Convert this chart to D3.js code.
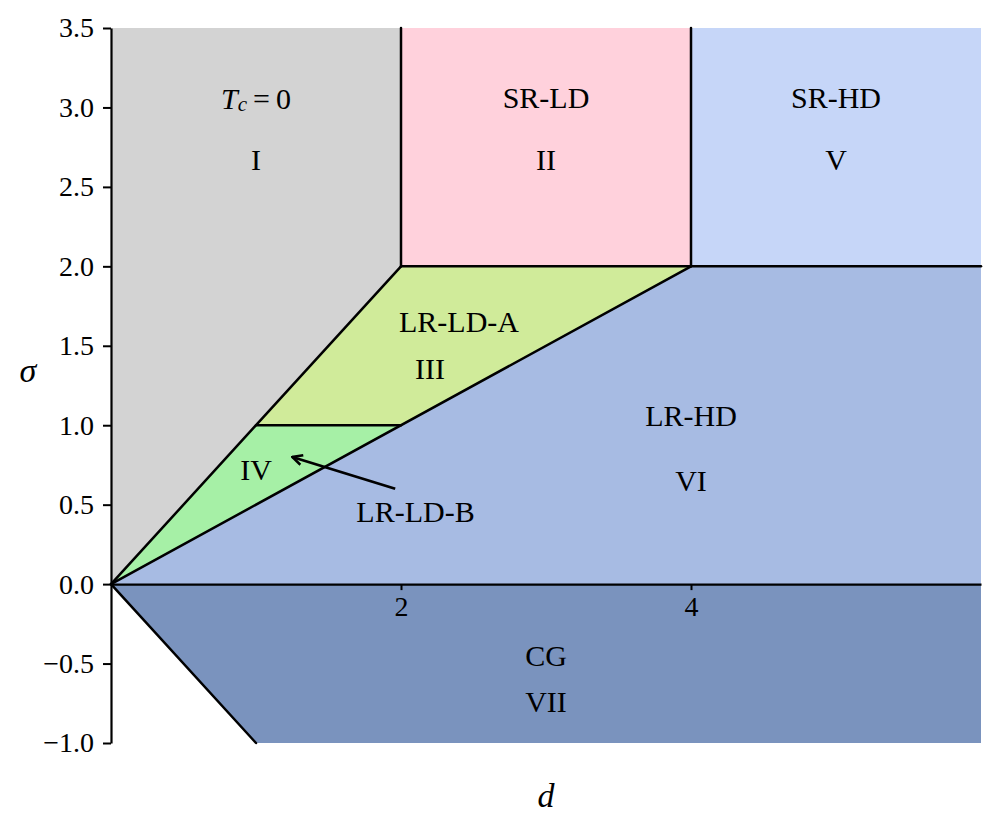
<!DOCTYPE html>
<html><head><meta charset="utf-8">
<script src="https://cdn.jsdelivr.net/npm/d3@7/dist/d3.min.js"></script>
<style>body{margin:0;background:#fff}svg{display:block}text{font-family:"Liberation Serif","DejaVu Serif",serif}</style>
</head><body>
<script>
// Region polygons (d, sigma)
const regionNames = ["I","II","V","III","IV","VI","VII"];
const regionColors = ["#d3d3d3","#ffd1dc","#c6d6f8","#d0eb9a","#a6f0a6","#a7bbe3","#7a93be"];
const regionPolys = [
  [[0,0],[0,3.5],[2,3.5],[2,2],[1,1]],
  [[2,2],[2,3.5],[4,3.5],[4,2]],
  [[4,2],[4,3.5],[6,3.5],[6,2]],
  [[1,1],[2,2],[4,2],[2,1]],
  [[0,0],[1,1],[2,1]],
  [[0,0],[2,1],[4,2],[6,2],[6,0]],
  [[0,0],[6,0],[6,-1],[1,-1]]
];
// Boundary line segments
const boundaries = [
  [[0,0],[2,2]],[[2,2],[2,3.5]],[[4,2],[4,3.5]],[[2,2],[6,2]],
  [[1,1],[2,1]],[[0,0],[4,2]],[[0,0],[1,-1]]
];
// Labels: text, d, sigma
const labelTexts = ["SR-LD","II","SR-HD","V","I","LR-LD-A","III","IV","LR-LD-B","LR-HD","VI","CG","VII"];
const labelD =     [3, 3, 5, 5, 1, 2.4, 2.2, 1.0, 2.1, 4.0, 4.0, 3.0, 3.0];
const labelS =     [3.06, 2.67, 3.06, 2.67, 2.67, 1.65, 1.36, 0.72, 0.46, 1.06, 0.65, -0.45, -0.74];
const tcLabel = {d:1.0, s:3.06};
const arrowFrom = [1.96, 0.6];
const arrowTo = [1.25, 0.8];
const yTicks = [-1.0,-0.5,0.0,0.5,1.0,1.5,2.0,2.5,3.0,3.5];
const xTicks = [2,4];

const W=998,H=830;
const svg=d3.select("body").append("svg").attr("width",W).attr("height",H);
const x=d3.scaleLinear().domain([0,6]).range([111,981]);
const y=d3.scaleLinear().domain([-1,3.5]).range([743,28]);
const font='"Liberation Serif","DejaVu Serif",serif';

const line=d3.line().x(p=>x(p[0])).y(p=>y(p[1]));
svg.append("g").selectAll("path").data(regionPolys).join("path")
  .attr("d",p=>line(p)+"Z").attr("fill",(p,i)=>regionColors[i]).attr("stroke","none");
svg.append("g").selectAll("path").data(boundaries).join("path")
  .attr("d",line).attr("stroke","#000").attr("stroke-width",2.5).attr("fill","none").attr("stroke-linecap","round");

// x axis at zero
const xa=svg.append("g").attr("transform",`translate(0,${y(0)})`)
  .call(d3.axisBottom(x).tickValues(xTicks).tickFormat(d3.format("d")).tickSize(6).tickPadding(6).tickSizeOuter(0));
xa.attr("font-family",null).attr("font-size",null);
xa.select(".domain").attr("stroke-width",2.2);
xa.selectAll("line").attr("stroke-width",2);
xa.selectAll("text").style("font-family",font).style("font-size","28px").attr("fill","#000");

const ya=svg.append("g").attr("transform",`translate(${x(0)},0)`)
  .call(d3.axisLeft(y).tickValues(yTicks).tickFormat(v=>d3.format(".1f")(v).replace("-","\u2212")).tickSize(8).tickPadding(9).tickSizeOuter(0));
ya.attr("font-family",null).attr("font-size",null);
ya.select(".domain").attr("stroke-width",2.2);
ya.selectAll("line").attr("stroke-width",2);
ya.selectAll("text").style("font-family",font).style("font-size","28px").attr("fill","#000");

// labels
svg.append("g").selectAll("text").data(labelTexts).join("text")
  .attr("x",(t,i)=>x(labelD[i])).attr("y",(t,i)=>y(labelS[i]))
  .attr("text-anchor","middle").attr("dominant-baseline","central")
  .style("font-family",font).style("font-size","30px").attr("fill","#000").text(t=>t);

const tc=svg.append("text").attr("x",x(tcLabel.d)).attr("y",y(tcLabel.s))
  .attr("text-anchor","middle").attr("dominant-baseline","central")
  .style("font-family",font).style("font-size","30px").attr("fill","#000");
tc.append("tspan").attr("font-style","italic").text("T");
tc.append("tspan").attr("font-style","italic").style("font-size","21px").attr("dy",6).text("c");
tc.append("tspan").attr("dy",-6).text("\u2009=\u20090");

// arrow
svg.append("defs").append("marker").attr("id","ah").attr("viewBox","0 0 12 12").attr("refX",11).attr("refY",6)
  .attr("markerWidth",12).attr("markerHeight",12).attr("markerUnits","userSpaceOnUse").attr("orient","auto")
  .append("path").attr("d","M1,1 L11,6 L1,11").attr("fill","none").attr("stroke","#000").attr("stroke-width",2.5);
svg.append("path").attr("d",line([arrowFrom,arrowTo])).attr("stroke","#000").attr("stroke-width",2.8)
  .attr("fill","none").attr("marker-end","url(#ah)");

// axis labels
svg.append("text").attr("x",28).attr("y",370).attr("text-anchor","middle").attr("dominant-baseline","central")
  .style("font-family",font).style("font-style","italic").style("font-size","34px").text("σ");
svg.append("text").attr("x",546).attr("y",795).attr("text-anchor","middle").attr("dominant-baseline","central")
  .style("font-family",font).style("font-style","italic").style("font-size","34px").text("d");
</script>
</body></html>
